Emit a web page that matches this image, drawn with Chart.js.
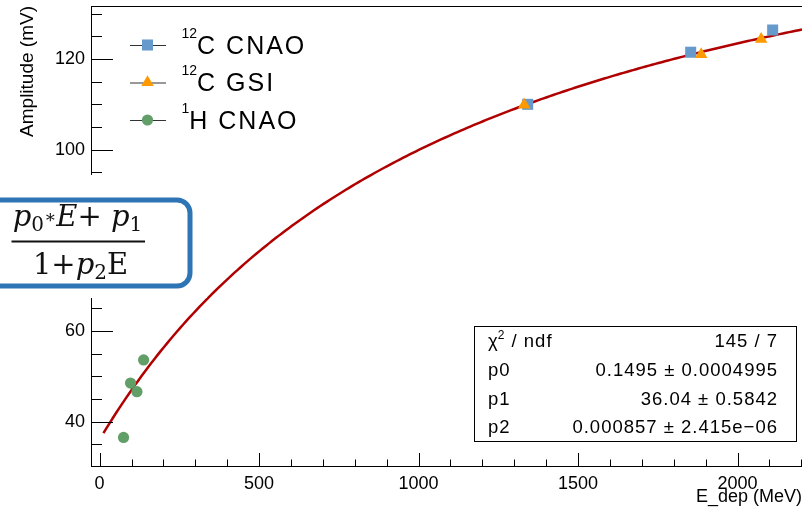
<!DOCTYPE html>
<html>
<head>
<meta charset="utf-8">
<script src="https://cdn.jsdelivr.net/npm/chart.js@4.4.1/dist/chart.umd.min.js"></script>
<style>
  html, body { margin: 0; padding: 0; background: #fff; }
  canvas { display: block; }
</style>
</head>
<body>
<canvas id="c" width="802" height="508"></canvas>
<script>
const SANS = '"Liberation Sans", Arial, Helvetica, sans-serif';
const SERIF = '"DejaVu Serif", "Liberation Serif", serif';

// Measured pulse amplitude vs deposited energy
const c12CnaoEnergy = [1342, 1853, 2110];
const c12CnaoAmp    = [110.0, 121.5, 126.4];
const c12GsiEnergy  = [1331, 1886, 2074];
const c12GsiAmp     = [109.9, 121.0, 124.4];
const h1CnaoEnergy  = [75, 97, 117, 138];
const h1CnaoAmp     = [36.5, 48.5, 46.6, 53.6];

// Fit of (p0*E + p1) / (1 + p2*E)
const fitParamText = ['0.1495', '36.04', '0.000857'];
const fitErrorText = ['0.0004995', '0.5842', '2.415e\u221206'];
const fitChi2Text  = '145 / 7';
const fitRange     = [12, 2210];

// Axes
const xRange = [-27, 2202];
const yRange = [30.2, 131.7];
const xMajorTicks = [0, 500, 1000, 1500, 2000];
const yMajorTicks = [40, 60, 80, 100, 120];
const xMinorStep = 100;
const yMinorStep = 5;

// Legend entries
const legendSup  = ['12', '12', '1'];
const legendText = ['C CNAO', 'C GSI', 'H CNAO'];

const colors = { cnao: '#6699cc', gsi: '#ff9900', proton: '#619e68', fit: '#b00000' };

const [p0, p1, p2] = fitParamText.map(Number);
const fitCurve = [];
for (let e = fitRange[0]; e <= fitRange[1]; e += 10) {
  fitCurve.push({ x: e, y: (p0 * e + p1) / (1 + p2 * e) });
}
const pts = (xs, ys) => xs.map((x, i) => ({ x, y: ys[i] }));

const pointSets = [
  { label: legendText[2], data: pts(h1CnaoEnergy, h1CnaoAmp),   pointStyle: 'circle',   pointRadius: 5.6, backgroundColor: colors.proton },
  { label: legendText[1], data: pts(c12GsiEnergy, c12GsiAmp),   pointStyle: 'triangle', pointRadius: 7.2, backgroundColor: colors.gsi },
  { label: legendText[0], data: pts(c12CnaoEnergy, c12CnaoAmp), pointStyle: 'rect',     pointRadius: 7.8, backgroundColor: colors.cnao },
];
// legend row i -> dataset index
const legendDataset = [2, 1, 0];

function drawPointMarker(ctx, ds, x, y) {
  ctx.fillStyle = ds.backgroundColor;
  ctx.strokeStyle = ds.backgroundColor;
  ctx.lineWidth = 0;
  Chart.helpers.drawPoint(ctx, { pointStyle: ds.pointStyle, radius: ds.pointRadius, borderWidth: 0, rotation: 0 }, x, y);
}

function drawRuns(ctx, runs, cx, baseline) {
  const fontOf = r => {
    if (r.s === 'i') return 'italic 29px ' + SERIF;
    if (r.s === 'r') return '29px ' + SERIF;
    if (r.s === 'sub') return '20px ' + SERIF;
    return '18px ' + SERIF;
  };
  let total = 0;
  const widths = runs.map(r => { ctx.font = fontOf(r); const w = ctx.measureText(r.t).width + (r.gap || 0); total += w; return w; });
  let xp = cx - total / 2;
  ctx.textAlign = 'left';
  ctx.textBaseline = 'alphabetic';
  runs.forEach((r, i) => {
    ctx.font = fontOf(r);
    ctx.fillText(r.t, xp, baseline + (r.dy || 0));
    xp += widths[i];
  });
}

const rootDecor = {
  id: 'rootDecor',
  afterDraw(chart) {
    const { ctx, chartArea: a, scales: { x, y } } = chart;
    ctx.save();
    ctx.strokeStyle = '#000';
    ctx.lineWidth = 1;

    // frame top edge
    ctx.beginPath();
    ctx.moveTo(a.left, a.top + 0.5);
    ctx.lineTo(a.right + 1, a.top + 0.5);
    ctx.stroke();

    // inward tick marks
    ctx.beginPath();
    for (let v = Math.ceil(yRange[0] / yMinorStep) * yMinorStep; v <= yRange[1]; v += yMinorStep) {
      const py = Math.round(y.getPixelForValue(v)) + 0.5;
      const len = yMajorTicks.includes(v) ? 22 : 11;
      ctx.moveTo(a.left, py);
      ctx.lineTo(a.left + len, py);
    }
    for (let v = Math.ceil(xRange[0] / xMinorStep) * xMinorStep; v <= xRange[1]; v += xMinorStep) {
      const px = Math.round(x.getPixelForValue(v)) + 0.5;
      const len = xMajorTicks.includes(v) ? 13 : 6.5;
      ctx.moveTo(px, a.bottom);
      ctx.lineTo(px, a.bottom - len);
    }
    ctx.stroke();

    // formula panel
    ctx.fillStyle = '#fff';
    ctx.fillRect(0, 175, 207, 123);
    ctx.beginPath();
    ctx.roundRect(-20, 200, 210, 86, 13);
    ctx.fill();
    ctx.lineWidth = 5;
    ctx.strokeStyle = '#2e75b6';
    ctx.stroke();

    ctx.fillStyle = '#111';
    drawRuns(ctx, [
      { t: 'p', s: 'i' }, { t: '0', s: 'sub', dy: 5 }, { t: '\u2217', s: 'ast', dy: -3 },
      { t: 'E', s: 'i' }, { t: '+ ', s: 'r' }, { t: 'p', s: 'i' }, { t: '1', s: 'sub', dy: 5 }
    ], 77.5, 226);
    ctx.fillRect(11.5, 240.5, 133.5, 2);
    drawRuns(ctx, [
      { t: '1', s: 'r' }, { t: '+', s: 'r' }, { t: 'p', s: 'i' }, { t: '2', s: 'sub', dy: 5 }, { t: 'E', s: 'r' }
    ], 80.5, 274);

    // legend
    const rowY = [45, 82.5, 120];
    legendDataset.forEach((di, i) => {
      const ds = chart.data.datasets[di];
      const yy = rowY[i];
      ctx.strokeStyle = '#333';
      ctx.lineWidth = 1;
      ctx.beginPath();
      ctx.moveTo(130, yy + 0.5);
      ctx.lineTo(166, yy + 0.5);
      ctx.stroke();
      drawPointMarker(ctx, ds, 147.5, yy);
      ctx.fillStyle = '#000';
      ctx.textAlign = 'left';
      ctx.textBaseline = 'alphabetic';
      ctx.letterSpacing = '0px';
      ctx.font = '14px ' + SANS;
      ctx.fillText(legendSup[i], 181.5, yy - 7.5);
      const sw = ctx.measureText(legendSup[i]).width;
      ctx.font = '25px ' + SANS;
      ctx.letterSpacing = '2px';
      ctx.fillText(legendText[i], 181.5 + sw, yy + 8.8);
      ctx.letterSpacing = '0px';
    });

    // fit statistics box
    ctx.fillStyle = '#fff';
    ctx.fillRect(474.5, 326.5, 322, 115);
    ctx.strokeStyle = '#000';
    ctx.lineWidth = 1;
    ctx.strokeRect(474.5, 326.5, 322, 115);
    ctx.fillStyle = '#000';
    const rows = [346.7, 376, 404.5, 433];
    ctx.font = '18.5px ' + SANS;
    ctx.letterSpacing = '1px';
    ctx.textAlign = 'left';
    // chi2 / ndf label
    ctx.fillText('\u03c7', 488, rows[0]);
    const cw = ctx.measureText('\u03c7').width;
    ctx.font = '12px ' + SANS;
    ctx.fillText('2', 488 + cw - 1, rows[0] - 8);
    const c2w = ctx.measureText('2').width;
    ctx.font = '18.5px ' + SANS;
    ctx.fillText(' / ndf', 488 + cw + c2w - 1, rows[0]);
    fitParamText.forEach((_, i) => ctx.fillText('p' + i, 488, rows[i + 1]));
    ctx.textAlign = 'right';
    ctx.fillText(fitChi2Text, 778, rows[0]);
    fitParamText.forEach((t, i) => ctx.fillText(t + ' \u00b1 ' + fitErrorText[i], 778, rows[i + 1]));
    ctx.letterSpacing = '0px';
    ctx.restore();
  }
};

// Chart.js reserves room for edge tick labels; the ROOT-style frame spans the full area
const noEdgePadding = s => { s.paddingLeft = 0; s.paddingRight = 0; s.paddingTop = 0; s.paddingBottom = 0; };

new Chart(document.getElementById('c'), {
  type: 'scatter',
  data: {
    datasets: [
      ...pointSets.map(s => ({ ...s, pointBorderWidth: 0, borderWidth: 0, pointHoverRadius: s.pointRadius, showLine: false })),
      { label: 'fit', data: fitCurve, showLine: true, borderColor: colors.fit, borderWidth: 2.5, pointRadius: 0, tension: 0 }
    ]
  },
  options: {
    responsive: false,
    animation: false,
    devicePixelRatio: 1,
    layout: { autoPadding: false, padding: { top: 6, left: 0, right: 0, bottom: 0 } },
    plugins: { legend: { display: false }, tooltip: { enabled: false } },
    scales: {
      x: {
        type: 'linear', min: xRange[0], max: xRange[1],
        afterFit: s => { s.height = 42; noEdgePadding(s); },
        afterBuildTicks: s => { s.ticks = xMajorTicks.map(v => ({ value: v })); },
        grid: { display: false, drawTicks: false },
        border: { display: true, color: '#000', width: 1 },
        ticks: { font: { family: SANS, size: 18 }, color: '#000', padding: 7, maxRotation: 0, autoSkip: false, callback: v => String(v) },
        title: { display: true, text: 'E_dep (MeV)', align: 'end', color: '#000', font: { family: SANS, size: 18 }, padding: { top: 0, bottom: 0 } }
      },
      y: {
        type: 'linear', min: yRange[0], max: yRange[1],
        afterFit: s => { s.width = 91; noEdgePadding(s); },
        afterBuildTicks: s => { s.ticks = yMajorTicks.map(v => ({ value: v })); },
        grid: { display: false, drawTicks: false },
        border: { display: true, color: '#000', width: 1 },
        ticks: { font: { family: SANS, size: 18 }, color: '#000', padding: 6, autoSkip: false, callback: v => String(v) },
        title: { display: true, text: 'Amplitude (mV)', align: 'end', color: '#000', font: { family: SANS, size: 19 }, padding: { top: 16, bottom: 0 } }
      }
    }
  },
  plugins: [rootDecor]
});
</script>
</body>
</html>
